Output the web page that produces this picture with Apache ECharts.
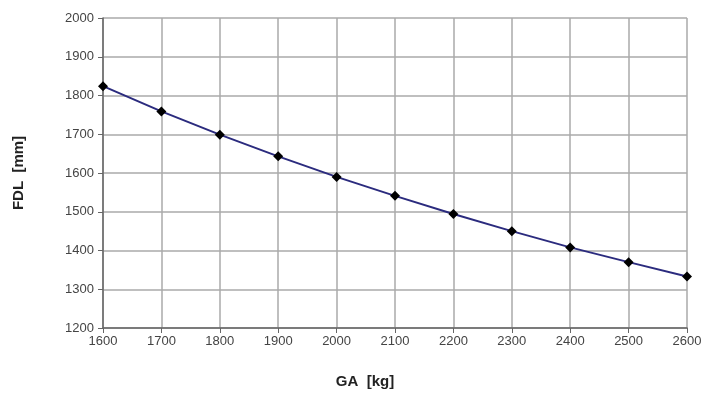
<!DOCTYPE html>
<html><head><meta charset="utf-8">
<script src="https://cdn.jsdelivr.net/npm/echarts@6/dist/echarts.min.js"></script>
<style>html,body{margin:0;padding:0;background:#fff}#c{width:707px;height:394px}</style>
</head><body><div id="c"></div>
<script>
var gaKg = [1600, 1700, 1800, 1900, 2000, 2100, 2200, 2300, 2400, 2500, 2600];
var fdlMm = [1824, 1759, 1699, 1643, 1590, 1541, 1494, 1450, 1408, 1370, 1333];
var chart = echarts.init(document.getElementById('c'));
var plain = function (v) { return String(v); };
chart.setOption({
  animation: false,
  backgroundColor: '#fff',
  grid: {left: 103, right: 20, top: 18, bottom: 62},
  xAxis: {
    type: 'value', min: 1600, max: 2600, interval: 100,
    name: 'GA  [kg]', nameLocation: 'middle', nameGap: 46,
    nameTextStyle: {fontFamily: 'Liberation Sans', fontWeight: 'bold', fontSize: 15, color: '#222', padding: [0, 60, 0, 0]},
    axisLine: {lineStyle: {color: '#666', width: 1.5}},
    axisTick: {show: true, length: 5, lineStyle: {color: '#666'}},
    axisLabel: {fontFamily: 'Liberation Sans', fontSize: 13, color: '#444', margin: 7, formatter: plain},
    splitLine: {show: true, lineStyle: {color: '#aaa', width: 1.5}}
  },
  yAxis: {
    type: 'value', min: 1200, max: 2000, interval: 100,
    name: 'FDL  [mm]', nameLocation: 'middle', nameGap: 77, nameRotate: 90,
    nameTextStyle: {fontFamily: 'Liberation Sans', fontWeight: 'bold', fontSize: 15, color: '#222'},
    axisLine: {show: true, lineStyle: {color: '#666', width: 1.5}},
    axisTick: {show: true, length: 5, lineStyle: {color: '#666'}},
    axisLabel: {fontFamily: 'Liberation Sans', fontSize: 13, color: '#444', margin: 9, formatter: plain},
    splitLine: {show: true, lineStyle: {color: '#aaa', width: 1.5}}
  },
  series: [{
    type: 'line',
    data: gaKg.map(function (g, i) { return [g, fdlMm[i]]; }),
    lineStyle: {color: '#2b2b7e', width: 2},
    symbol: 'diamond', symbolSize: 10,
    itemStyle: {color: '#000'}
  }]
});
</script></body></html>
